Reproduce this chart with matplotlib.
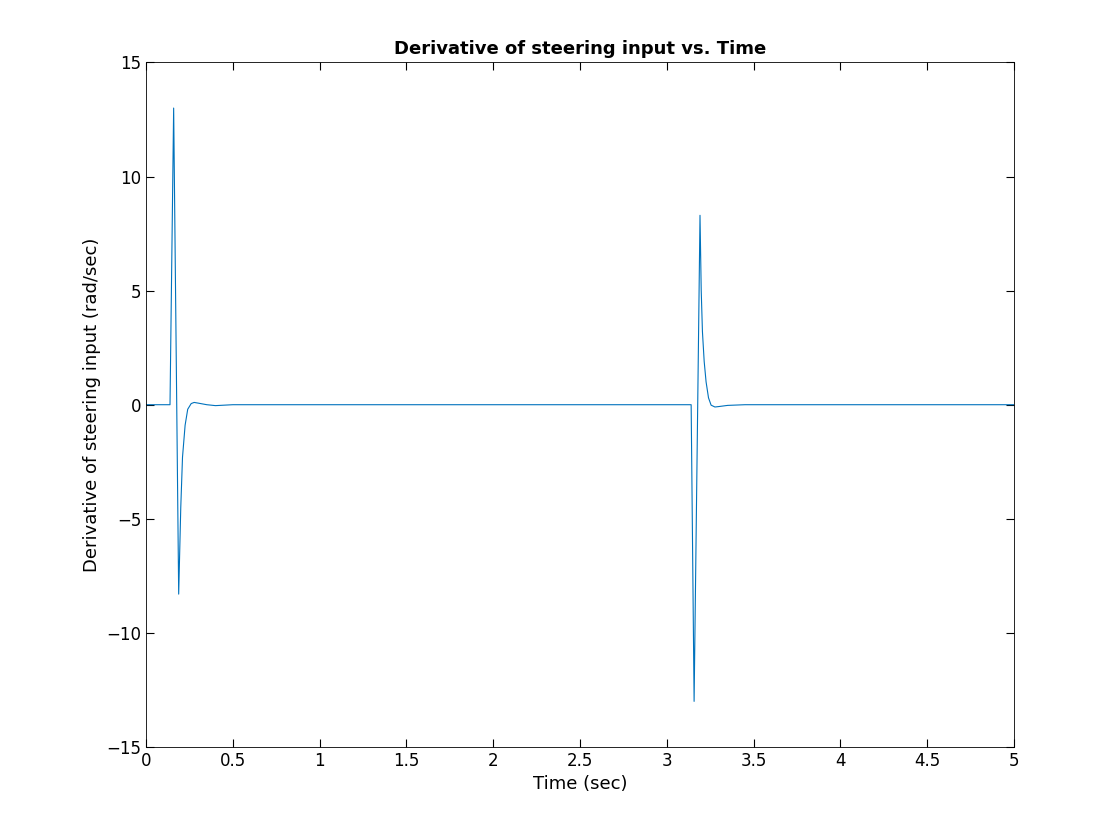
import matplotlib
matplotlib.use("Agg")
import matplotlib.pyplot as plt

t = [0, 0.138, 0.159, 0.188, 0.200, 0.210, 0.225, 0.240, 0.260, 0.277, 0.30, 0.35, 0.40, 0.50,
     3.14, 3.157, 3.191, 3.198, 3.205, 3.215, 3.226, 3.24, 3.255, 3.277, 3.30, 3.35, 3.45, 5.0]
u = [0, 0, 13.0, -8.3, -4.5, -2.3, -0.9, -0.2, 0.05, 0.1, 0.07, 0.0, -0.04, 0,
     0, -13.0, 8.3, 5.0, 3.2, 1.9, 1.0, 0.3, -0.02, -0.1, -0.08, -0.03, 0.0, 0]

fig = plt.figure(figsize=(11.2, 8.4), dpi=100)
ax = fig.add_axes([0.1304, 0.1107, 0.775, 0.8150])
ax.plot(t, u, color='#0072BD', lw=0.8)
ax.set_xlim(0, 5)
ax.set_ylim(-15, 15)
ax.set_xticks([0, 0.5, 1, 1.5, 2, 2.5, 3, 3.5, 4, 4.5, 5])
ax.set_xticklabels(['0', '0.5', '1', '1.5', '2', '2.5', '3', '3.5', '4', '4.5', '5'])
ax.set_yticks([-15, -10, -5, 0, 5, 10, 15])
ax.tick_params(direction='in', labelsize=12, length=6, top=True, right=True, labeltop=False, labelright=False)
for s in ax.spines.values():
    s.set_linewidth(0.6)
ax.set_xlabel('Time (sec)', fontsize=13)
ax.set_ylabel('Derivative of steering input (rad/sec)', fontsize=13)
ax.set_title('Derivative of steering input vs. Time', fontsize=13, fontweight='bold')
fig.savefig('out.png')
